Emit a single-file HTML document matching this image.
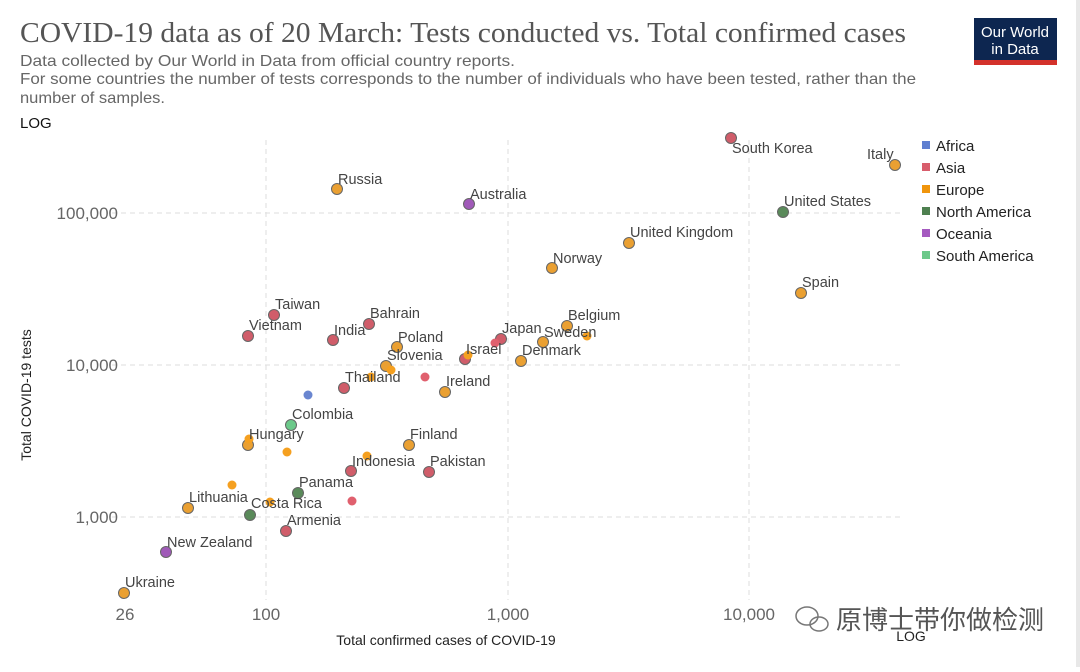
<!DOCTYPE html>
<html><head><meta charset="utf-8"><style>
body{margin:0;width:1080px;height:667px;background:#fff;overflow:hidden;font-family:"Liberation Sans",sans-serif;}
</style></head><body>
<svg width="1080" height="667" xmlns="http://www.w3.org/2000/svg" style="font-family:'Liberation Sans',sans-serif">
<rect x="1076" y="0" width="4" height="667" fill="#e8e8e8"/>
<text x="20" y="42" style="font-family:'Liberation Serif','DejaVu Serif',serif;font-size:29px" fill="#555" textLength="886" lengthAdjust="spacingAndGlyphs">COVID-19 data as of 20 March: Tests conducted vs. Total confirmed cases</text>
<text x="20" y="66" font-size="16" fill="#666" textLength="495" lengthAdjust="spacingAndGlyphs">Data collected by Our World in Data from official country reports.</text>
<text x="20" y="84" font-size="16" fill="#666" textLength="896" lengthAdjust="spacingAndGlyphs">For some countries the number of tests corresponds to the number of individuals who have been tested, rather than the</text>
<text x="20" y="103" font-size="16" fill="#666" textLength="145" lengthAdjust="spacingAndGlyphs">number of samples.</text>
<text x="20" y="128" font-size="15" fill="#111">LOG</text>
<rect x="974" y="18" width="83" height="42" fill="#0d2650"/>
<rect x="974" y="60" width="83" height="5" fill="#d3312b"/>
<text x="1015" y="37" font-size="15" fill="#fff" text-anchor="middle">Our World</text>
<text x="1015" y="54" font-size="15" fill="#fff" text-anchor="middle">in Data</text>
<g stroke="#ddd" stroke-dasharray="5,4" stroke-width="1">
<line x1="266" y1="140" x2="266" y2="600"/><line x1="508" y1="140" x2="508" y2="600"/><line x1="749" y1="140" x2="749" y2="600"/>
<line x1="112" y1="213" x2="900" y2="213"/><line x1="112" y1="365" x2="900" y2="365"/><line x1="112" y1="517" x2="900" y2="517"/>
</g>
<g font-size="17" fill="#666">
<text x="118" y="219" text-anchor="end">100,000</text>
<text x="118" y="371" text-anchor="end">10,000</text>
<text x="118" y="523" text-anchor="end">1,000</text>
<text x="125" y="620" text-anchor="middle">26</text>
<text x="266" y="620" text-anchor="middle">100</text>
<text x="508" y="620" text-anchor="middle">1,000</text>
<text x="749" y="620" text-anchor="middle">10,000</text>
</g>
<text x="446" y="645" font-size="14" fill="#222" text-anchor="middle">Total confirmed cases of COVID-19</text>
<text x="911" y="641" font-size="14" fill="#222" text-anchor="middle">LOG</text>
<text transform="translate(31,395) rotate(-90)" font-size="14" fill="#222" text-anchor="middle">Total COVID-19 tests</text>
<g font-size="15" fill="#222">
<rect x="922" y="141" width="8" height="8" fill="#5f7fd0"/><text x="936" y="151">Africa</text>
<rect x="922" y="163" width="8" height="8" fill="#d85d6c"/><text x="936" y="173">Asia</text>
<rect x="922" y="185" width="8" height="8" fill="#f0950c"/><text x="936" y="195">Europe</text>
<rect x="922" y="207" width="8" height="8" fill="#4e8050"/><text x="936" y="217">North America</text>
<rect x="922" y="229" width="8" height="8" fill="#a55ac0"/><text x="936" y="239">Oceania</text>
<rect x="922" y="251" width="8" height="8" fill="#6cc98a"/><text x="936" y="261">South America</text>
</g>
<g stroke="#666" stroke-width="1">
<g fill="#d05d6a">
<circle cx="731" cy="138" r="5.5"/><circle cx="274" cy="315" r="5.5"/><circle cx="248" cy="336" r="5.5"/><circle cx="333" cy="340" r="5.5"/><circle cx="369" cy="324" r="5.5"/><circle cx="344" cy="388" r="5.5"/><circle cx="465" cy="359" r="5.5"/><circle cx="501" cy="339" r="5.5"/><circle cx="351" cy="471" r="5.5"/><circle cx="429" cy="472" r="5.5"/><circle cx="286" cy="531" r="5.5"/>
</g>
<g fill="#eaa032">
<circle cx="895" cy="165" r="5.5"/><circle cx="337" cy="189" r="5.5"/><circle cx="629" cy="243" r="5.5"/><circle cx="552" cy="268" r="5.5"/><circle cx="801" cy="293" r="5.5"/><circle cx="397" cy="347" r="5.5"/><circle cx="386" cy="366" r="5.5"/><circle cx="445" cy="392" r="5.5"/><circle cx="521" cy="361" r="5.5"/><circle cx="543" cy="342" r="5.5"/><circle cx="567" cy="326" r="5.5"/><circle cx="248" cy="445" r="5.5"/><circle cx="409" cy="445" r="5.5"/><circle cx="188" cy="508" r="5.5"/><circle cx="124" cy="593" r="5.5"/>
</g>
<g fill="#5a8a5a"><circle cx="783" cy="212" r="5.5"/><circle cx="298" cy="493" r="5.5"/><circle cx="250" cy="515" r="5.5"/></g>
<g fill="#a05ab8"><circle cx="469" cy="204" r="5.5"/><circle cx="166" cy="552" r="5.5"/></g>
<g fill="#6cc98a"><circle cx="291" cy="425" r="5.5"/></g>
</g>
<g>
<g fill="#f5a020"><circle cx="391" cy="370" r="4.5"/><circle cx="371" cy="377" r="4.5"/><circle cx="468" cy="355" r="4.5"/><circle cx="587" cy="336" r="4.5"/><circle cx="249" cy="439" r="4.5"/><circle cx="287" cy="452" r="4.5"/><circle cx="367" cy="456" r="4.5"/><circle cx="270" cy="502" r="4.5"/><circle cx="232" cy="485" r="4.5"/></g>
<g fill="#e0606e"><circle cx="425" cy="377" r="4.5"/><circle cx="495" cy="343" r="4.5"/><circle cx="352" cy="501" r="4.5"/></g>
<circle cx="308" cy="395" r="4.5" fill="#6a86d0"/>
</g>
<g font-size="14.5" fill="#444">
<text x="732" y="153">South Korea</text>
<text x="867" y="159">Italy</text>
<text x="338" y="184">Russia</text>
<text x="470" y="199">Australia</text>
<text x="784" y="206">United States</text>
<text x="630" y="237">United Kingdom</text>
<text x="553" y="263">Norway</text>
<text x="802" y="287">Spain</text>
<text x="275" y="309">Taiwan</text>
<text x="249" y="330">Vietnam</text>
<text x="334" y="335">India</text>
<text x="370" y="318">Bahrain</text>
<text x="398" y="342">Poland</text>
<text x="387" y="360">Slovenia</text>
<text x="345" y="382">Thailand</text>
<text x="446" y="386">Ireland</text>
<text x="466" y="354">Israel</text>
<text x="502" y="333">Japan</text>
<text x="522" y="355">Denmark</text>
<text x="544" y="337">Sweden</text>
<text x="568" y="320">Belgium</text>
<text x="292" y="419">Colombia</text>
<text x="249" y="439">Hungary</text>
<text x="410" y="439">Finland</text>
<text x="352" y="466">Indonesia</text>
<text x="430" y="466">Pakistan</text>
<text x="299" y="487">Panama</text>
<text x="251" y="508">Costa Rica</text>
<text x="189" y="502">Lithuania</text>
<text x="287" y="525">Armenia</text>
<text x="167" y="547">New Zealand</text>
<text x="125" y="587">Ukraine</text>
</g>
<g fill="none" stroke="#777" stroke-width="1.5"><ellipse cx="807" cy="616" rx="11" ry="9"/><ellipse cx="819" cy="624" rx="9" ry="7"/></g>
<text x="836" y="629" style="font-family:'Liberation Sans','Noto Sans CJK SC',sans-serif;font-size:26px" fill="#555">原博士带你做检测</text>
</svg>
</body></html>
